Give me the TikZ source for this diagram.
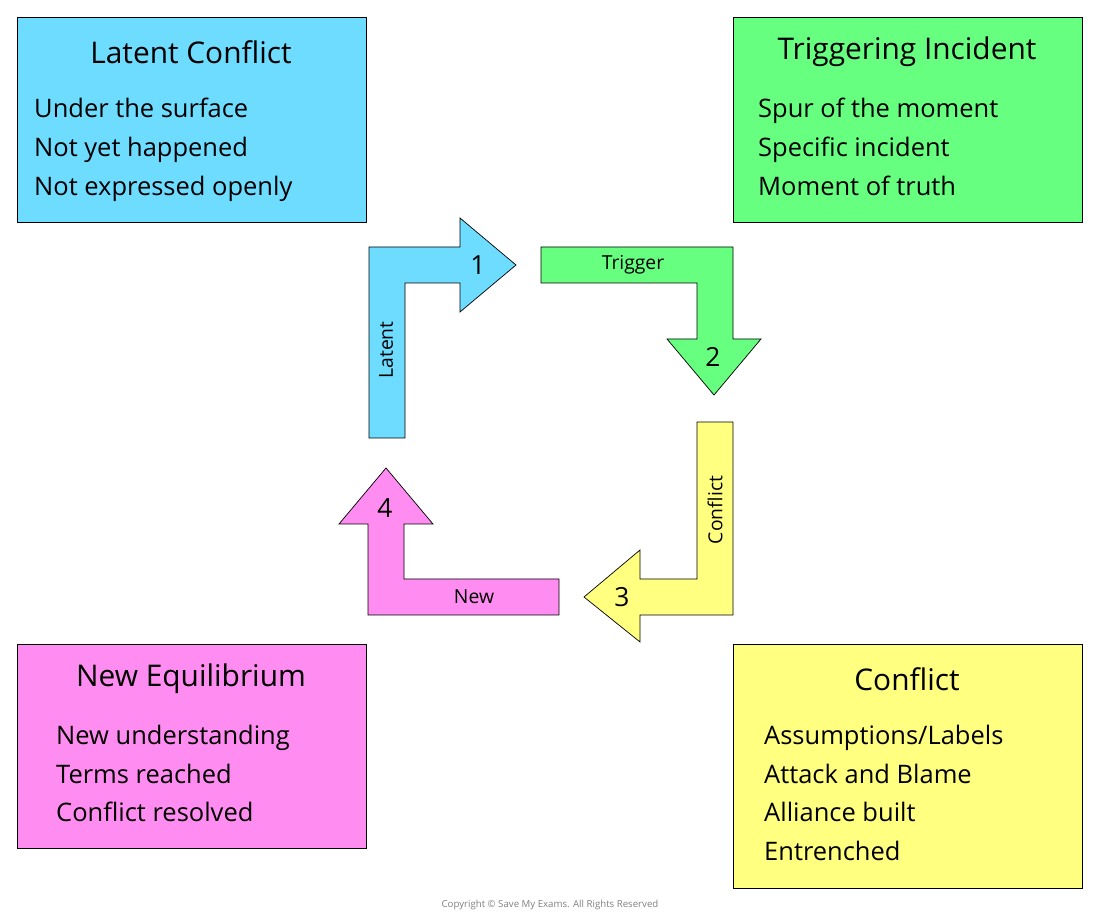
\documentclass[tikz,border=0pt]{standalone}
\usepackage{fontspec}
\setmainfont{Open Sans}
\usetikzlibrary{positioning}
\definecolor{cyanbox}{HTML}{6EDCFF}
\definecolor{greenbox}{HTML}{66FF80}
\definecolor{pinkbox}{HTML}{FF8CF0}
\definecolor{yellowbox}{HTML}{FFFF80}
\tikzset{
  box/.style={draw, thin},
  title/.style={font=\fontsize{17}{20}\selectfont},
  body/.style={font=\fontsize{14.5}{22}\selectfont, align=left, anchor=north west},
  arrowlbl/.style={font=\fontsize{11}{13}\selectfont},
  numlbl/.style={font=\fontsize{15}{18}\selectfont}
}
\begin{document}
\begin{tikzpicture}[x=0.02cm, y=-0.02cm]
    \useasboundingbox (0,0) rectangle (1100,915);

    % Boxes
    \draw[box, fill=cyanbox] (17,17) rectangle (366,222);
    \draw[box, fill=greenbox] (733,17) rectangle (1082,222);
    \draw[box, fill=pinkbox] (17,644) rectangle (366,848);
    \draw[box, fill=yellowbox] (733,644) rectangle (1082,888);

    % Box texts
    \node[title] (latentT) at (191,52) {Latent Conflict};
    \node[body] (latentB) at (28,92) {Under the surface\\Not yet happened\\Not expressed openly};
    \node[title] (triggerT) at (907,52) {Triggering Incident};
    \node[body] (triggerB) at (752,92) {Spur of the moment\\Specific incident\\Moment of truth};
    \node[title] (newT) at (191,679) {New Equilibrium};
    \node[body] (newB) at (50,719) {New understanding\\Terms reached\\Conflict resolved};
    \node[title] (conflictT) at (907,679) {Conflict};
    \node[body] (conflictB) at (758,719) {Assumptions/Labels\\Attack and Blame\\Alliance built\\Entrenched};

    % Arrow 1
    \draw[box, fill=cyanbox] (369,438) -- (369,247) -- (460,247) -- (460,218) -- (516,265)
        -- (460,312) -- (460,283) -- (405,283) -- (405,438) -- cycle;
    % Arrow 2
    \draw[box, fill=greenbox] (541,247) -- (733,247) -- (733,339) -- (761,339) -- (714,395)
        -- (667,339) -- (697,339) -- (697,283) -- (541,283) -- cycle;
    % Arrow 3
    \draw[box, fill=yellowbox] (697,422) -- (733,422) -- (733,615) -- (640,615) -- (640,642)
        -- (584,597) -- (640,550) -- (640,579) -- (697,579) -- cycle;
    % Arrow 4
    \draw[box, fill=pinkbox] (559,579) -- (559,615) -- (368,615) -- (368,524) -- (339,524)
        -- (386,468) -- (433,524) -- (404,524) -- (404,579) -- cycle;

    % Arrow labels
    \node[arrowlbl, rotate=90] (latentL) at (386,350) {Latent};
    \node[numlbl] (n1) at (478,265) {1};
    \node[arrowlbl] (triggerL) at (633,265) {Trigger};
    \node[numlbl] (n2) at (713,357) {2};
    \node[arrowlbl, rotate=90] (conflictL) at (715,510) {Conflict};
    \node[numlbl] (n3) at (622,597) {3};
    \node[arrowlbl] (newL) at (474,597) {New};
    \node[numlbl] (n4) at (385,508) {4};

    % Copyright
    \node[font=\fontsize{5.5}{6}\selectfont, text=gray] (copy) at (550,905)
        {Copyright © Save My Exams. All Rights Reserved};
\end{tikzpicture}
\end{document}
